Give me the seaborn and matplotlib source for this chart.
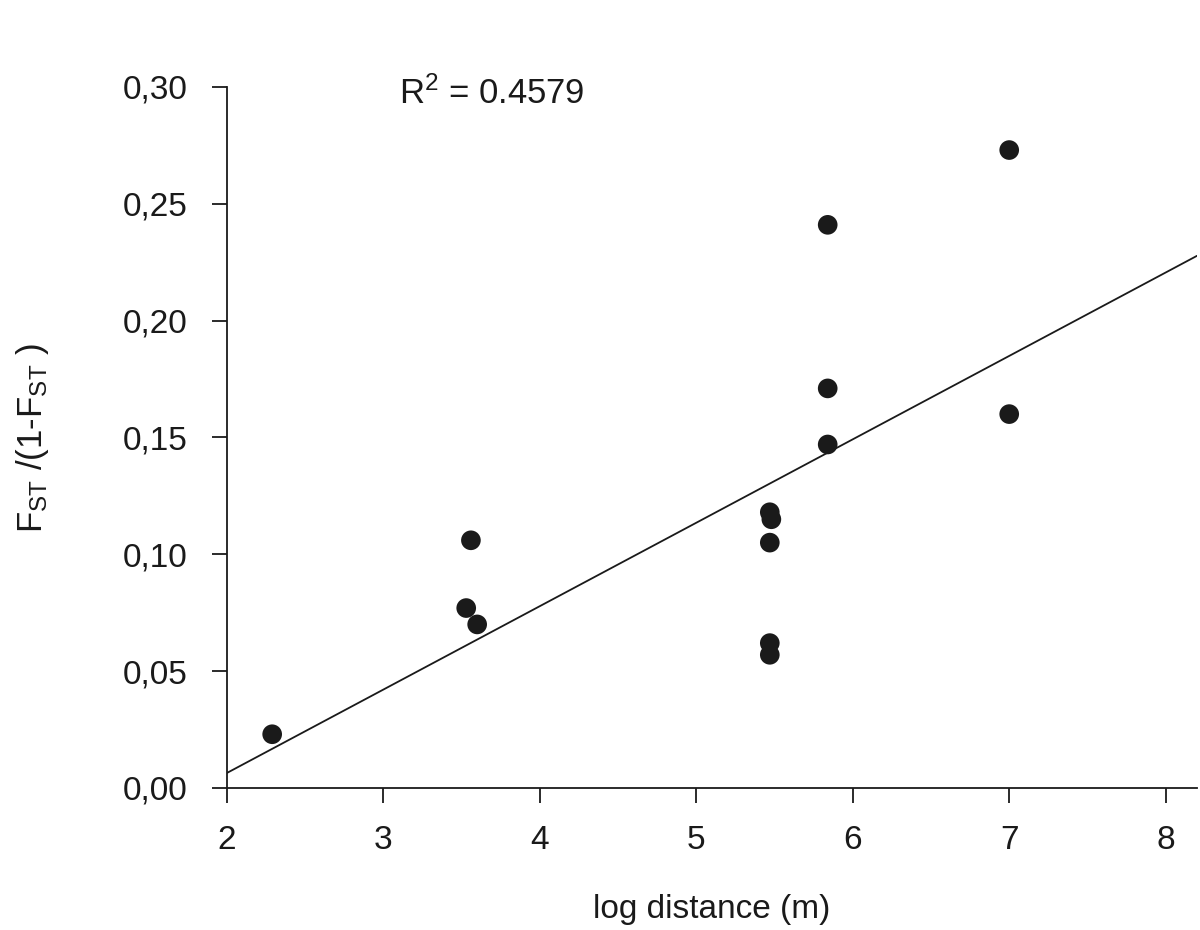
import numpy as np
import pandas as pd
import matplotlib
matplotlib.use("Agg")
import matplotlib.pyplot as plt
import seaborn as sns

# Data
log_distance = [2.29, 3.53, 3.60, 3.56, 5.47, 5.48, 5.47, 5.47, 5.47, 5.84, 5.84, 5.84, 7.00, 7.00]
fst_ratio = [0.023, 0.077, 0.070, 0.106, 0.118, 0.115, 0.105, 0.062, 0.057, 0.241, 0.171, 0.147, 0.273, 0.160]
fit_intercept = -0.0650
fit_slope = 0.0357
r2_label = "0.4579"

df = pd.DataFrame({"x": log_distance, "y": fst_ratio})

sns.set_style("ticks")
plt.rcParams["font.family"] = ["Liberation Sans", "DejaVu Sans"]
plt.rcParams["mathtext.fontset"] = "custom"
plt.rcParams["mathtext.rm"] = "Liberation Sans"
plt.rcParams["mathtext.it"] = "Liberation Sans"

ink = "#1a1a1a"
fig = plt.figure(figsize=(12, 9.3), dpi=100)
ax = fig.add_axes([0.189, 0.1527, 0.8085, 0.7538])

sns.scatterplot(data=df, x="x", y="y", ax=ax, color=ink, s=200,
                edgecolor="none", zorder=3)
# regression line as reported
ax.axline((0, fit_intercept), slope=fit_slope, color=ink, lw=1.3)

ax.set_xlim(2, 8.2)
ax.set_ylim(0, 0.30)
ax.set_xticks([2, 3, 4, 5, 6, 7, 8])
yt = np.arange(0, 0.31, 0.05)
ax.set_yticks(yt)
ax.set_yticklabels([f"{v:.2f}".replace(".", ",") for v in yt])
ax.tick_params(direction="out", length=11, width=1.3, labelsize=24, colors=ink)
ax.tick_params(axis="y", pad=17)
ax.tick_params(axis="x", pad=16)
for side in ["top", "right"]:
    ax.spines[side].set_visible(False)
for side in ["left", "bottom"]:
    ax.spines[side].set_linewidth(1.3)
    ax.spines[side].set_color(ink)

ax.set_xlabel("log distance (m)", fontsize=24, labelpad=27, color=ink)
ax.set_ylabel(r"F$_{\rm ST}$ /(1-F$_{\rm ST}$ )", fontsize=25, labelpad=52, color=ink)
ax.text(3.1, 0.297, r"R$^{2}$ = " + r2_label, fontsize=25, color=ink, va="center")

fig.savefig("out.png", dpi=100)
